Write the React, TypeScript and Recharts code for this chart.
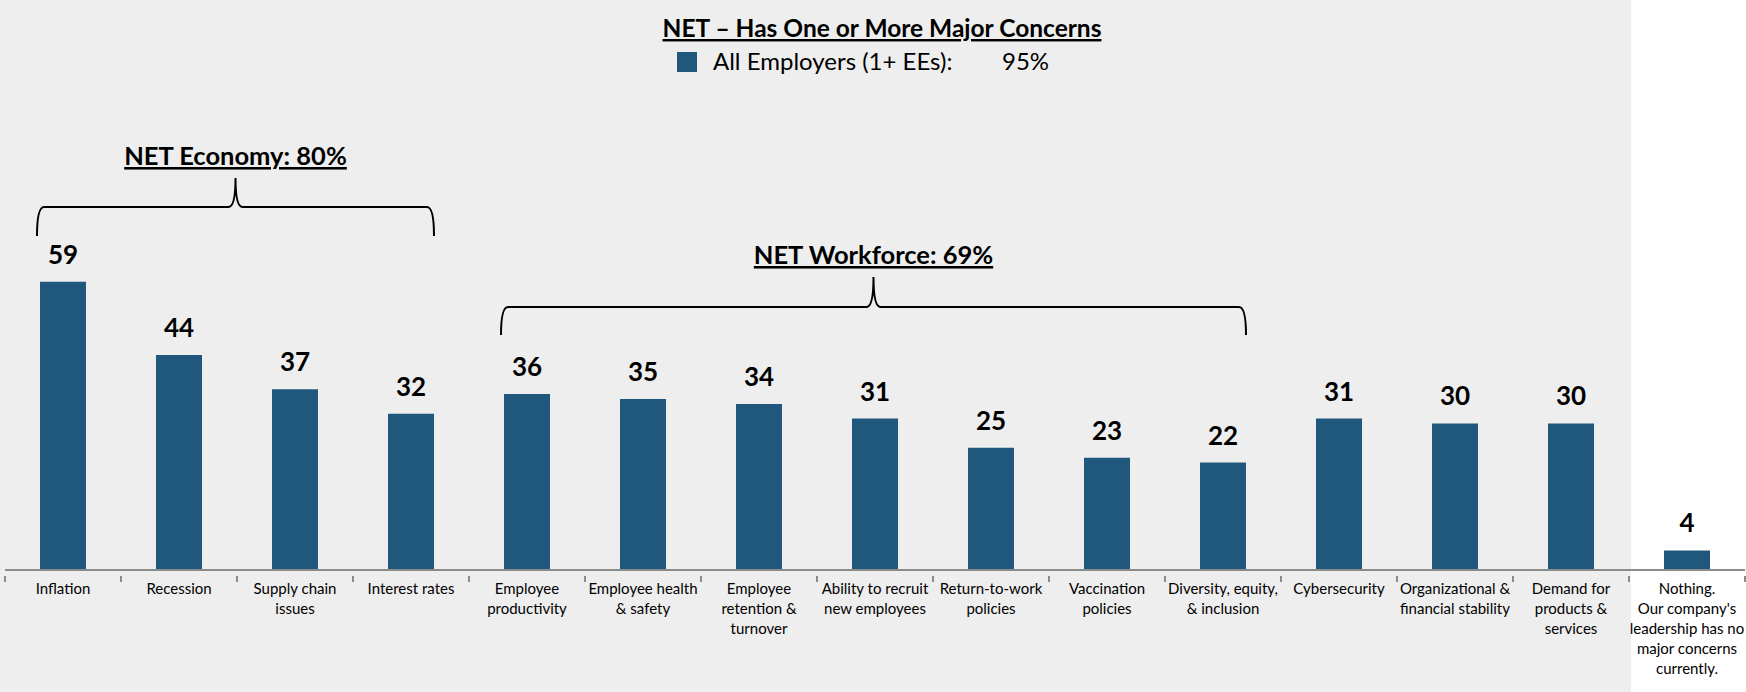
import React from "react";
import { BarChart, Bar, XAxis, YAxis, LabelList } from "recharts";

const CATEGORIES: string[] = [
  "Inflation",
  "Recession",
  "Supply chain\nissues",
  "Interest rates",
  "Employee\nproductivity",
  "Employee health\n& safety",
  "Employee\nretention &\nturnover",
  "Ability to recruit\nnew employees",
  "Return-to-work\npolicies",
  "Vaccination\npolicies",
  "Diversity, equity,\n& inclusion",
  "Cybersecurity",
  "Organizational &\nfinancial stability",
  "Demand for\nproducts &\nservices",
  "Nothing.\nOur company's\nleadership has no\nmajor concerns\ncurrently.",
];

const VALUES: number[] = [59, 44, 37, 32, 36, 35, 34, 31, 25, 23, 22, 31, 30, 30, 4];

const TITLE = "NET \u2013 Has One or More Major Concerns";
const SERIES_NAME = "All Employers (1+ EEs):";
const SERIES_NET = "95%";

// groups of categories shown with a bracket above them (index ranges)
const GROUPS = [
  { label: "NET Economy: 80%", from: 0, to: 3, base: 236, line: 207, peak: 178 },
  { label: "NET Workforce: 69%", from: 4, to: 10, base: 335, line: 307, peak: 277 },
];

const W = 1746;
const H = 692;
const PLOT_LEFT = 5;
const PLOT_RIGHT = 1745;
const BAND = (PLOT_RIGHT - PLOT_LEFT) / CATEGORIES.length;
const BAR_SIZE = 46;
const FONT = "Lato, 'Noto Sans', sans-serif";
const BAR_COLOR = "#1F587C";
const AXIS_COLOR = "#8C8C8C";

const data = CATEGORIES.map((name, i) => ({ name, value: VALUES[i] }));

function CategoryTick(props: any) {
  const { x, y, payload, index } = props;
  const half = payload?.offset ?? BAND / 2;
  const lines = String(payload.value).split("\n");
  const isLast = index === CATEGORIES.length - 1;
  return (
    <g>
      <line x1={x - half} x2={x - half} y1={y - 8} y2={y - 2} stroke={AXIS_COLOR} strokeWidth={2} />
      {isLast && (
        <line x1={x + half} x2={x + half} y1={y - 8} y2={y - 2} stroke={AXIS_COLOR} strokeWidth={2} />
      )}
      <text x={x} y={y + 10} textAnchor="middle" fontFamily={FONT} fontSize={15} fill="#000">
        {lines.map((l, i) => (
          <tspan key={i} x={x} dy={i === 0 ? 0 : 20}>
            {l}
          </tspan>
        ))}
      </text>
    </g>
  );
}

function bracketPath(l: number, r: number, base: number, line: number, peak: number) {
  const m = (l + r) / 2;
  return [
    `M ${l} ${base}`,
    `Q ${l} ${line} ${l + 7} ${line}`,
    `L ${m - 7} ${line}`,
    `Q ${m} ${line} ${m} ${peak}`,
    `Q ${m} ${line} ${m + 7} ${line}`,
    `L ${r - 7} ${line}`,
    `Q ${r} ${line} ${r} ${base}`,
  ].join(" ");
}

function Overlay() {
  const barLeft = (i: number) => PLOT_LEFT + BAND * i + (BAND - BAR_SIZE) / 2;
  return (
    <svg width={W} height={H} style={{ position: "absolute", left: 0, top: 0, pointerEvents: "none" }}>
      <text
        x={882}
        y={37}
        textAnchor="middle"
        fontFamily={FONT}
        fontWeight={700}
        fontSize={24.5}
        textDecoration="underline"
        fill="#000"
      >
        {TITLE}
      </text>
      <rect x={677} y={52} width={20} height={20} fill={BAR_COLOR} />
      <text x={713} y={70} fontFamily={FONT} fontSize={24} fill="#000">
        {SERIES_NAME}
      </text>
      <text x={1002} y={70} fontFamily={FONT} fontSize={24} fill="#000">
        {SERIES_NET}
      </text>
      {GROUPS.map((g) => {
        const l = barLeft(g.from) - 3;
        const r = barLeft(g.to) + BAR_SIZE;
        return (
          <g key={g.label}>
            <path d={bracketPath(l, r, g.base, g.line, g.peak)} fill="none" stroke="#000" strokeWidth={2} />
            <text
              x={(l + r) / 2}
              y={g.peak - 13}
              textAnchor="middle"
              fontFamily={FONT}
              fontWeight={700}
              fontSize={25.5}
              textDecoration="underline"
              fill="#000"
            >
              {g.label}
            </text>
          </g>
        );
      })}
    </svg>
  );
}

export default function App() {
  return (
    <div
      style={{
        position: "absolute",
        left: 0,
        top: 0,
        width: W,
        height: H,
        background: "linear-gradient(to right, #EEEEEE 1631px, #FFFFFF 1631px)",
      }}
    >
      <BarChart
        width={W}
        height={H}
        data={data}
        margin={{ top: 228, right: W - PLOT_RIGHT, left: PLOT_LEFT, bottom: 0 }}
      >
        <XAxis
          dataKey="name"
          interval={0}
          height={122}
          axisLine={{ stroke: AXIS_COLOR, strokeWidth: 2 }}
          tickLine={false}
          tick={<CategoryTick />}
          tickMargin={8}
        />
        <YAxis hide domain={[0, 70]} />
        <Bar dataKey="value" fill={BAR_COLOR} barSize={BAR_SIZE} isAnimationActive={false}>
          <LabelList
            dataKey="value"
            position="top"
            offset={18}
            fontFamily={FONT}
            fontWeight={700}
            fontSize={26}
            fill="#000"
          />
        </Bar>
      </BarChart>
      <Overlay />
    </div>
  );
}
